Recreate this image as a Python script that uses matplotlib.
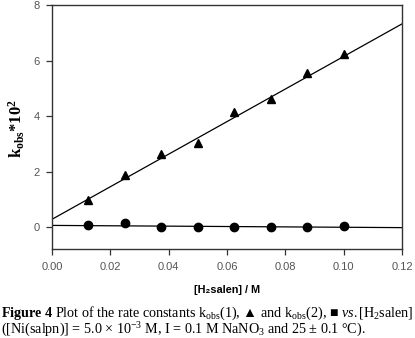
import numpy as np
import matplotlib
matplotlib.use("Agg")
import matplotlib.pyplot as plt

plt.rcParams['font.family'] = ['Liberation Sans', 'DejaVu Sans']
plt.rcParams['mathtext.fontset'] = 'custom'
plt.rcParams['mathtext.rm'] = 'Liberation Serif'
plt.rcParams['mathtext.it'] = 'Liberation Serif:italic'
plt.rcParams['mathtext.bf'] = 'Liberation Serif:bold'

# data
conc = [0.0125, 0.025, 0.0375, 0.05, 0.0625, 0.075, 0.0875, 0.10]
kobs1 = [0.98, 1.89, 2.64, 3.03, 4.14, 4.62, 5.55, 6.24]
kobs2 = [0.08, 0.14, 0.01, 0.01, 0.01, 0.01, 0.01, 0.04]
fit_x = [0.0, 0.12]
fit1 = [0.29, 7.33]
fit2 = [0.07, -0.01]

fig = plt.figure(figsize=(4.15, 3.38), dpi=100)
ax = fig.add_axes([52 / 415, 1 - 249 / 338, 350 / 415, 243.7 / 338])

ax.plot(fit_x, fit1, color='black', linewidth=0.9)
ax.plot(fit_x, fit2, color='black', linewidth=0.9)
ax.plot(conc, kobs1, linestyle='none', marker='^', color='black', markersize=5.2)
ax.plot(conc, kobs2, linestyle='none', marker='o', color='black', markersize=6)

ax.set_xlim(0, 0.12)
ax.set_ylim(-0.78, 8)
xt = np.arange(0, 0.121, 0.02)
ax.set_xticks(xt)
ax.set_yticks([0, 2, 4, 6, 8])
ax.set_xticklabels(["%.2f" % v for v in xt])
ax.tick_params(direction='out', length=4, width=0.9, colors='#333333',
               labelcolor='#555555', labelsize=8, pad=5)
ax.tick_params(axis='both', which='both', top=False, right=False)
for sp in ax.spines.values():
    sp.set_linewidth(1.0)
    sp.set_color('#333333')

fig.text(227 / 415, 1 - 290 / 338, "[H\u2082salen] / M", ha='center', va='center',
         fontsize=7.8, fontweight='bold')
fig.text(17 / 415, 1 - 128 / 338,
         r"$\mathbf{k}_{\mathbf{obs}}\mathbf{*10}^{\mathbf{2}}$",
         rotation=90, ha='center', va='center', fontsize=12)

cap_font = ['Liberation Serif', 'DejaVu Serif']
fig.text(1 / 415, 1 - 313 / 338,
         r"$\mathbf{Figure\ 4}$ Plot of the rate constants k$_{\rm obs}$(1), ▲ and k$_{\rm obs}$(2), ■ $vs.$[H$_2$salen]",
         ha='left', va='center', fontsize=10.2, family=cap_font)
fig.text(1 / 415, 1 - 330 / 338,
         r"([Ni(salpn)] = 5.0 × 10$^{-3}$ M, I = 0.1 M NaNO$_3$ and 25 ± 0.1 °C).",
         ha='left', va='center', fontsize=10.2, family=cap_font)

fig.savefig("out.png", dpi=100)
